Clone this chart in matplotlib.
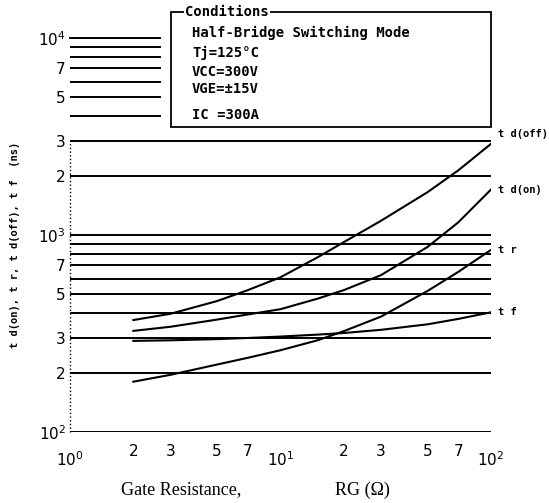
import matplotlib
matplotlib.use("Agg")
import matplotlib.pyplot as plt
from matplotlib.patches import Rectangle

# switching times vs gate resistance
rg = [2, 3, 5, 7, 10, 15, 20, 30, 50, 70, 100]
td_off = [370, 398, 462, 525, 610, 770, 920, 1180, 1650, 2130, 2900]
td_on = [326, 342, 372, 395, 420, 475, 525, 625, 870, 1160, 1700]
tr = [180, 195, 220, 238, 260, 292, 325, 385, 520, 650, 840]
tf = [290, 292, 296, 300, 305, 312, 318, 330, 352, 375, 405]

curves = [("t d(off)", td_off, 7), ("t d(on)", td_on, 0), ("t r", tr, 0), ("t f", tf, 0)]

y_major = [100, 1000, 10000]
y_major_labels = ["$10^2$", "$10^3$", "$10^4$"]
y_minor = [200, 300, 500, 700, 2000, 3000, 5000, 7000]
y_minor_labels = ["2", "3", "5", "7", "2", "3", "5", "7"]
x_major = [1, 10, 100]
x_major_labels = ["$10^0$", "$10^1$", "$10^2$"]
x_minor = [2, 3, 5, 7, 20, 30, 50, 70]
x_minor_labels = ["2", "3", "5", "7", "2", "3", "5", "7"]

conditions = ["Half-Bridge Switching Mode", "Tj=125°C", "VCC=300V", "VGE=±15V", "IC =300A"]
cond_y = [1.013, 0.962, 0.914, 0.871, 0.805]

mono = "DejaVu Sans Mono"

fig = plt.figure(figsize=(5.49, 5.03), dpi=100)
ax = fig.add_axes([0.1275, 0.1412, 0.7668, 0.7833])
ax.set_xscale("log")
ax.set_yscale("log")
ax.set_xlim(1, 100)
ax.set_ylim(100, 10000)

# horizontal rulings at every decade step (upper ones hidden by the box)
for d in [100, 1000]:
    for k in range(1, 10):
        v = k * d
        xmax = 0.214 if v > 3000 else 1.0
        ax.axhline(v, xmax=xmax, color="black", lw=1.4, zorder=1)
ax.axhline(10000, xmax=0.214, color="black", lw=1.4, zorder=1, clip_on=False)
ax.plot([1, 1], [100, 3000], ls=":", lw=1, color="black", clip_on=False)

for name, vals, dy in curves:
    ax.plot(rg, vals, color="black", lw=1.5, zorder=3)
    ax.annotate(name, (100, vals[-1]), xytext=(5, dy), textcoords="offset points",
                va="center", ha="left", fontsize=7.5, fontweight="bold",
                family=mono, annotation_clip=False)

for s in ax.spines.values():
    s.set_visible(False)

ax.set_yticks(y_major)
ax.set_yticklabels(y_major_labels)
ax.set_yticks(y_minor, minor=True)
ax.set_yticklabels(y_minor_labels, minor=True)
ax.set_xticks(x_major)
ax.set_xticklabels(x_major_labels)
ax.set_xticks(x_minor, minor=True)
ax.set_xticklabels(x_minor_labels, minor=True)
ax.tick_params(axis="both", which="both", length=0, labelsize=11)
ax.tick_params(axis="y", which="both", pad=3)
ax.tick_params(axis="x", which="minor", pad=9)
ax.tick_params(axis="x", which="major", pad=13)

# conditions box
ax.add_patch(Rectangle((0.240, 0.774), 0.76, 0.292, transform=ax.transAxes,
                       facecolor="white", edgecolor="black", lw=1.3,
                       clip_on=False, zorder=5))
ax.text(0.273, 1.066, "Conditions", transform=ax.transAxes, va="center", ha="left",
        fontsize=10, fontweight="bold", family=mono, zorder=6,
        bbox=dict(facecolor="white", edgecolor="none", pad=1))
for line, yy in zip(conditions, cond_y):
    ax.text(0.290, yy, line, transform=ax.transAxes, va="center", ha="left",
            fontsize=10, fontweight="bold", family=mono, zorder=6)

fig.text(0.027, 0.513, "t d(on), t r, t d(off), t f  (ns)", rotation=90,
         va="center", ha="center", fontsize=7.5, fontweight="bold", family=mono)
fig.text(0.33, 0.026, "Gate Resistance,", ha="center", va="center",
         fontsize=13, family="Liberation Serif")
fig.text(0.66, 0.026, "RG (Ω)", ha="center", va="center",
         fontsize=13, family="Liberation Serif")

fig.savefig("out.png", dpi=100, facecolor="white")
